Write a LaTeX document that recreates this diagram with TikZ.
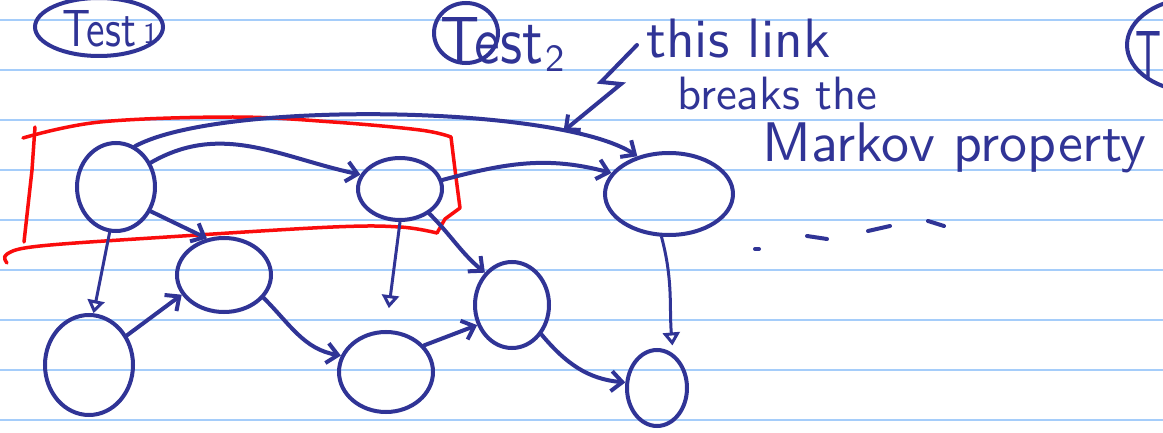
\documentclass[tikz,border=0pt]{standalone}
\usetikzlibrary{shapes.geometric,arrows.meta}
\definecolor{ink}{RGB}{48,52,150}
\definecolor{ruling}{RGB}{165,205,250}
\definecolor{lasso}{RGB}{250,12,12}
\begin{document}
\begin{tikzpicture}[x=1pt,y=-1pt,
  state/.style={ellipse,draw=ink,line width=4pt,inner sep=0pt},
  tag/.style={ellipse,draw=ink,line width=4pt,inner sep=0pt},
  word/.style={text=ink,font=\sffamily,inner sep=0pt},
  link/.style={draw=ink,line width=4pt,line cap=round,
    -{Straight Barb[length=11pt,width=20pt]}},
  thinlink/.style={draw=ink,line width=3pt,line cap=round,
    -{Triangle[open,length=13pt,width=17pt]}},
  lassoline/.style={draw=lasso,line width=3.5pt,line cap=round,line join=round},
  dashmark/.style={draw=ink,line width=4pt,line cap=round}]
% paper and ruling
\clip (0,0) rectangle (1163,433);
\fill[white] (0,0) rectangle (1163,433);
\foreach \k in {0,...,8}
  \draw[ruling,line width=2pt] (0,20+50*\k) -- (1163,20+50*\k);

% headings
\node[tag,minimum width=128pt,minimum height=58pt] (t1) at (99,27) {};
\node[word,anchor=base west] (t1txt) at (62,47) {\resizebox{74pt}{36pt}{Test}};
\node[word,anchor=base west] (t1sub) at (143,44) {\resizebox{!}{20pt}{1}};
\node[tag,minimum width=64pt,minimum height=60pt] (t2) at (466,33) {};
\node[word,anchor=base west] (t2txt) at (440,64) {\resizebox{103pt}{46pt}{Test}};
\node[word,anchor=base west] (t2sub) at (545,72) {\resizebox{!}{26pt}{2}};
\node[tag,minimum width=140pt,minimum height=94pt] (t3) at (1197,45) {};
\node[word,anchor=base east] (t3txt) at (1162,80) {\resizebox{26pt}{48pt}{T}};

% annotation
\node[word,anchor=base west] (note1) at (646,58) {\resizebox{184pt}{!}{this link}};
\node[word,anchor=base west] (note2) at (677,110) {\resizebox{200pt}{!}{breaks the}};
\node[word,anchor=base west] (note3) at (762,162) {\resizebox{384pt}{!}{Markov property}};

% states
\node[state,minimum width=78pt,minimum height=88pt] (A) at (116,187) {};
\node[state,minimum width=84pt,minimum height=62pt] (B) at (400,189) {};
\node[state,minimum width=128pt,minimum height=82pt] (C) at (669,194) {};
\node[state,minimum width=94pt,minimum height=74pt] (D) at (224,275) {};
\node[state,minimum width=88pt,minimum height=100pt] (E) at (89,365) {};
\node[state,minimum width=94pt,minimum height=80pt] (F) at (386,372) {};
\node[state,minimum width=74pt,minimum height=86pt] (G) at (512,305) {};
\node[state,minimum width=60pt,minimum height=76pt] (H) at (657,388) {};

% lasso round the first two states
\draw[lassoline] plot[smooth,tension=.6] coordinates
  {(23,138) (100,122) (233,117) (333,122) (420,130) (451,137)};
\draw[lassoline] (451,137) .. controls (455,170) .. (460,208) -- (445,219) -- (437,233);
\draw[lassoline] plot[smooth,tension=.6] coordinates
  {(437,233) (400,227) (333,227) (167,237) (40,246) (7,254) (7,263)};
\draw[lassoline] (35,127) -- (32,170) -- (24,242);

% transitions
\draw[link] (A.65) .. controls (220,100) and (560,105) .. coordinate[pos=0.8] (lnk) (C.130);
\draw[link] (A.35) to[out=30,in=168] (B.160);
\draw[link] (B.12) to[out=15,in=165] (C.160);
\draw[link] (A.-35) -- (D.115);
\draw[thinlink] (A.-98) -- (E.85);
\draw[link] (E.38) -- (D.-155);
\draw[link] (D.-30) to[out=-45,in=170] (F.160);
\draw[link] (B.-40) to[out=-45,in=140] (G.130);
\draw[thinlink,shorten >=22pt] (B.-90) -- (F.90);
\draw[link] (F.35) -- (G.-150);
\draw[link] (G.-45) to[out=-50,in=175] (H.170);
\draw[thinlink,shorten >=8pt] (C.-100) to[out=-75,in=95] (H.65);

% pointer from the note to the long link
\draw[link] (637,45) -- (601,82) -- (621,84) -- (lnk);

% trailing dashes
\draw[dashmark] (755,249) -- (759,249);
\draw[dashmark] (807,236) -- (827,239);
\draw[dashmark] (868,231) -- (890,226);
\draw[dashmark] (928,221) -- (944,226);
\end{tikzpicture}
\end{document}
